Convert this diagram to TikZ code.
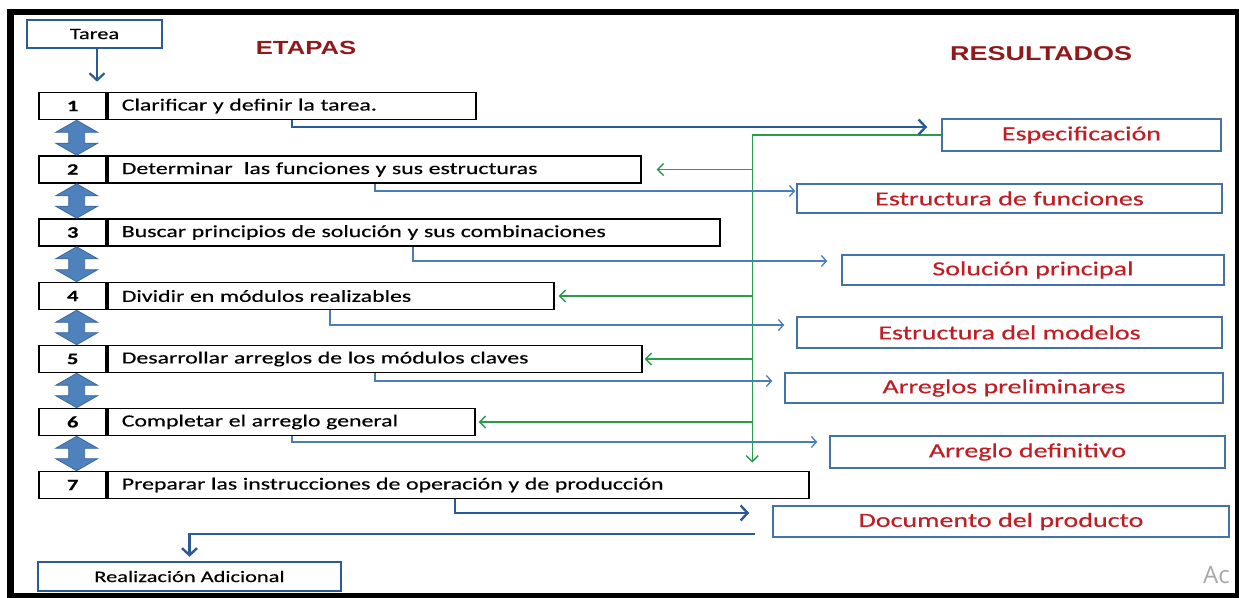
\documentclass[tikz,border=0pt]{standalone}
\usepackage{fontspec}
\setmainfont{Carlito}
\newfontfamily\calib{Carlito}[FakeStretch=1.4,FakeBold=0.35]
\newfontfamily\headf{Liberation Sans}[FakeStretch=1.35]
\newfontfamily\wmf{Open Sans}
\usetikzlibrary{arrows.meta,calc}
\definecolor{thickblue}{HTML}{2C5A96}
\definecolor{thinblue}{HTML}{4A7EBB}
\definecolor{resblue}{HTML}{4472A8}
\definecolor{dblfill}{HTML}{4F81BD}
\definecolor{dbldraw}{HTML}{3A679C}
\definecolor{greenline}{HTML}{2A9B4A}
\definecolor{redtext}{HTML}{BE1E24}
\definecolor{headred}{HTML}{8E1A1C}
\definecolor{wmgray}{HTML}{A8A8A8}
\tikzset{
  numcell/.style={draw=black, line width=1.6pt, minimum width=67pt, minimum height=27pt,
    inner sep=0pt, anchor=east, font=\calib\bfseries\fontsize{16}{19}\selectfont},
  stagecell/.style={draw=black, line width=1.6pt, minimum height=27pt, inner xsep=14pt,
    inner ysep=0pt, anchor=west, align=left, font=\calib\fontsize{17}{20}\selectfont},
  resbox/.style={draw=resblue, line width=1.5pt, inner sep=0pt, text=redtext,
    font=\calib\fontsize{20}{23}\selectfont},
  endbox/.style={draw=thickblue, line width=2.4pt, inner sep=0pt,
    font=\calib\fontsize{16}{19}\selectfont},
  headline/.style={text=headred, inner sep=0pt, font=\headf\bfseries\fontsize{19}{22}\selectfont},
  bluethin/.style={draw=thinblue, line width=1.3pt, -{Straight Barb[length=5pt,width=11pt]}},
  bluethick/.style={draw=thickblue, line width=2.4pt, -{Straight Barb[length=7pt,width=15pt]}},
  greenl/.style={draw=greenline, line width=1.4pt},
  greenarr/.style={greenl, -{Straight Barb[length=6pt,width=12pt]}},
  dblstyle/.style={fill=dblfill, draw=dbldraw, line width=0.8pt, line join=miter},
}
\newcommand\dblarrow[2]{%
  \path[dblstyle] let \p1=(#1.south), \p2=(#2.north) in
  (\x1+4pt,\y1) -- (\x1+25pt,\y1-12pt) -- (\x1+12pt,\y1-12pt) -- (\x1+12pt,\y2+12pt)
  -- (\x1+25pt,\y2+12pt) -- (\x1+4pt,\y2) -- (\x1-17pt,\y2+12pt) -- (\x1-4pt,\y2+12pt)
  -- (\x1-4pt,\y1-12pt) -- (\x1-17pt,\y1-12pt) -- cycle;}
\begin{document}
\begin{tikzpicture}[x=1pt,y=-1pt]
\useasboundingbox (0,0) rectangle (1239,597);
\fill[white] (0,0) rectangle (1239,597);

% watermark (clipped by frame)
\begin{scope}
\clip (14,15) rectangle (1235,593);
\node[anchor=base west, inner sep=0pt, text=wmgray, font=\wmf\fontsize{24}{26}\selectfont] (wm1) at (1203,583) {Ac};
\end{scope}

% headings
\node[headline] (etapas) at (306,48) {ETAPAS};
\node[headline, font=\headf\bfseries\fontsize{20}{23}\selectfont] (resultados) at (1041,54) {RESULTADOS};

% start / end boxes
\node[endbox, minimum width=135pt, minimum height=28pt] (tarea) at (94.5,34) {Tarea};
\node[endbox, minimum width=303pt, minimum height=29pt] (real) at (189.5,576.5) {Realización Adicional};

% stages
\node[numcell] (n1) at (107,106) {1};
\node[stagecell, text width=340pt] (s1) at (107,106) {Clarificar y definir la tarea.};
\node[numcell] (n2) at (107,169.5) {2};
\node[stagecell, text width=505pt] (s2) at (107,169.5) {Determinar\ \ las funciones y sus estructuras};
\node[numcell] (n3) at (107,232.5) {3};
\node[stagecell, text width=584pt] (s3) at (107,232.5) {Buscar principios de solución y sus combinaciones};
\node[numcell] (n4) at (107,296) {4};
\node[stagecell, text width=418pt] (s4) at (107,296) {Dividir en módulos realizables};
\node[numcell] (n5) at (107,359) {5};
\node[stagecell, text width=506pt] (s5) at (107,359) {Desarrollar arreglos de los módulos claves};
\node[numcell] (n6) at (107,422) {6};
\node[stagecell, text width=339pt] (s6) at (107,422) {Completar el arreglo general};
\node[numcell] (n7) at (107,485) {7};
\node[stagecell, text width=673pt] (s7) at (107,485) {Preparar las instrucciones de operación y de producción};

% results
\node[resbox, minimum width=279pt, minimum height=32pt] (r1) at (1081.5,135) {Especificación};
\node[resbox, minimum width=425pt, minimum height=29pt] (r2) at (1009.5,198.5) {Estructura de funciones};
\node[resbox, minimum width=382pt, minimum height=30pt] (r3) at (1033,270) {Solución principal};
\node[resbox, minimum width=425pt, minimum height=31pt] (r4) at (1009.5,332.5) {Estructura del modelos};
\node[resbox, minimum width=438pt, minimum height=30pt] (r5) at (1004,388) {Arreglos preliminares};
\node[resbox, minimum width=395pt, minimum height=32pt] (r6) at (1027.5,452) {Arreglo definitivo};
\node[resbox, minimum width=456pt, minimum height=31pt] (r7) at (1001,521.5) {Documento del producto};

% double arrows between stages
\dblarrow{n1}{n2}
\dblarrow{n2}{n3}
\dblarrow{n3}{n4}
\dblarrow{n4}{n5}
\dblarrow{n5}{n6}
\dblarrow{n6}{n7}

% Tarea -> stage 1
\draw[bluethick, line width=2.2pt, shorten >=10pt] ([xshift=2.5pt]tarea.south) -- ([xshift=2.5pt]tarea.south |- n1.north);

% green feedback lines
\draw[greenl] (r1.west) -- ++(-189,0) coordinate (g0);
\draw[greenarr, shorten >=8pt] (g0) -- (g0 |- s7.north);
\draw[greenarr, shorten >=15pt] (g0 |- s2.east) -- (s2.east);
\draw[greenarr, shorten >=4pt] (g0 |- s4.east) -- (s4.east);
\draw[greenarr, shorten >=2pt] (g0 |- s5.east) -- (s5.east);
\draw[greenarr, shorten >=3pt] (g0 |- s6.east) -- (s6.east);

% stage -> result connectors
\draw[bluethick, shorten >=14pt] ([xshift=185pt]s1.south west) |- ([yshift=8pt]r1.west);
\draw[bluethin, shorten >=1pt] ([xshift=268pt]s2.south west) |- ([yshift=7.5pt]r2.west);
\draw[bluethin, shorten >=14pt] ([xshift=306pt]s3.south west) |- ([yshift=9pt]r3.west);
\draw[bluethin, shorten >=12pt] ([xshift=223pt]s4.south west) |- ([yshift=7.5pt]r4.west);
\draw[bluethin, shorten >=12pt] ([xshift=268pt]s5.south west) |- ([yshift=7pt]r5.west);
\draw[bluethin, shorten >=12pt] ([xshift=185pt]s6.south west) |- ([yshift=10pt]r6.west);
\draw[bluethick, shorten >=23pt] ([xshift=348pt]s7.south west) |- ([yshift=8.5pt]r7.west);
\draw[bluethick, shorten >=4pt] ([xshift=-17pt,yshift=-12.5pt]r7.west) -| (real.north);

% outer frame
\draw[black, line width=6.5pt] (10.5,12) rectangle (1238.5,596);
\end{tikzpicture}
\end{document}
